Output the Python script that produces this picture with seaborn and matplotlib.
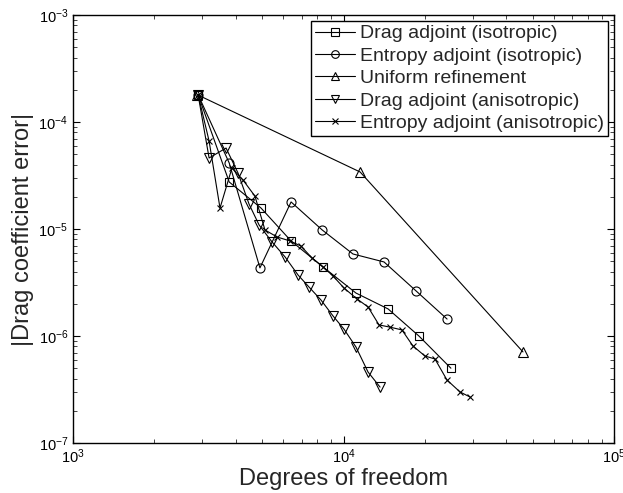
import numpy as np
import pandas as pd
import matplotlib
matplotlib.use("Agg")
import matplotlib.pyplot as plt
import seaborn as sns

# ---- data ----
drag_iso_dof = [2900, 3780, 4955, 6400, 8400, 11120, 14620, 19000, 24950]
drag_iso_err = [1.8e-4, 2.75e-5, 1.57e-5, 7.73e-6, 4.42e-6, 2.52e-6, 1.79e-6, 1.0e-6, 5.0e-7]

ent_iso_dof = [2900, 3780, 4910, 6400, 8340, 10840, 14120, 18540, 24150]
ent_iso_err = [1.8e-4, 4.14e-5, 4.33e-6, 1.79e-5, 9.8e-6, 5.84e-6, 4.92e-6, 2.64e-6, 1.44e-6]

uniform_dof = [2880, 11520, 46080]
uniform_err = [1.8e-4, 3.41e-5, 7.1e-7]

drag_aniso_dof = [2900, 3185, 3680, 4075, 4475, 4875, 5445, 6085, 6795, 7455,
                  8255, 9145, 10040, 11120, 12320, 13650]
drag_aniso_err = [1.8e-4, 4.61e-5, 5.71e-5, 3.33e-5, 1.71e-5, 1.09e-5, 7.56e-6,
                  5.47e-6, 3.71e-6, 2.87e-6, 2.17e-6, 1.54e-6, 1.16e-6, 7.89e-7,
                  4.61e-7, 3.33e-7]

ent_aniso_dof = [2900, 3185, 3495, 3870, 4250, 4705, 5125, 5680, 6345, 6960,
                 7650, 8400, 9145, 10040, 11220, 12320, 13530, 14850, 16440,
                 18060, 20000, 21780, 24130, 26960, 29370]
ent_aniso_err = [1.8e-4, 6.64e-5, 1.57e-5, 3.72e-5, 2.87e-5, 2.03e-5, 9.8e-6,
                 8.42e-6, 7.73e-6, 6.93e-6, 5.36e-6, 4.42e-6, 3.64e-6, 2.81e-6,
                 2.22e-6, 1.87e-6, 1.27e-6, 1.21e-6, 1.14e-6, 8.07e-7, 6.5e-7,
                 6.1e-7, 3.88e-7, 3.0e-7, 2.69e-7]

labels = ["Drag adjoint (isotropic)", "Entropy adjoint (isotropic)",
          "Uniform refinement", "Drag adjoint (anisotropic)",
          "Entropy adjoint (anisotropic)"]
markers = ["s", "o", "^", "v", "x"]
msizes = [6.0, 6.5, 7.0, 7.0, 5.0]

series = [(drag_iso_dof, drag_iso_err), (ent_iso_dof, ent_iso_err),
          (uniform_dof, uniform_err), (drag_aniso_dof, drag_aniso_err),
          (ent_aniso_dof, ent_aniso_err)]

# ---- style ----
sns.set_style("ticks")
plt.rcParams["font.family"] = ["Liberation Sans", "DejaVu Sans"]
plt.rcParams["mathtext.fontset"] = "custom"
plt.rcParams["mathtext.rm"] = "Liberation Sans"
plt.rcParams["mathtext.it"] = "Liberation Sans:italic"
plt.rcParams["xtick.direction"] = "in"
plt.rcParams["ytick.direction"] = "in"
plt.rcParams["xtick.top"] = True
plt.rcParams["ytick.right"] = True

fig = plt.figure(figsize=(6.23, 4.93), dpi=100)
ax = fig.add_axes([73 / 623, 50 / 493, (614 - 73) / 623, (443 - 15) / 493])

for (dof, err), lab, mk, ms in zip(series, labels, markers, msizes):
    df = pd.DataFrame({"dof": dof, "err": err})
    sns.lineplot(data=df, x="dof", y="err", ax=ax, color="black", lw=0.8,
                 marker=mk, markersize=ms,
                 markerfacecolor="none" if mk != "x" else "black",
                 markeredgecolor="black", markeredgewidth=0.8,
                 sort=False, estimator=None, label=lab)

ax.set_xscale("log")
ax.set_yscale("log")
ax.set_xlim(1e3, 1e5)
ax.set_ylim(1e-7, 1e-3)
ax.set_xlabel("Degrees of freedom", fontsize=17, labelpad=1)
ax.set_ylabel("|Drag coefficient error|", fontsize=17, labelpad=3)
ax.tick_params(which="major", length=5, width=0.8, labelsize=10.5, colors="black")
ax.tick_params(which="minor", length=3, width=0.6)
for s in ax.spines.values():
    s.set_linewidth(1.0)
    s.set_color("black")

leg = ax.legend(loc="upper right", fontsize=14, frameon=True, fancybox=False,
                edgecolor="black", framealpha=1, borderpad=0.2,
                handlelength=2.1, handletextpad=0.25, labelspacing=0.25,
                borderaxespad=0.3, markerscale=0.85)
leg.get_frame().set_linewidth(1.0)

fig.savefig("out.png", dpi=100)
